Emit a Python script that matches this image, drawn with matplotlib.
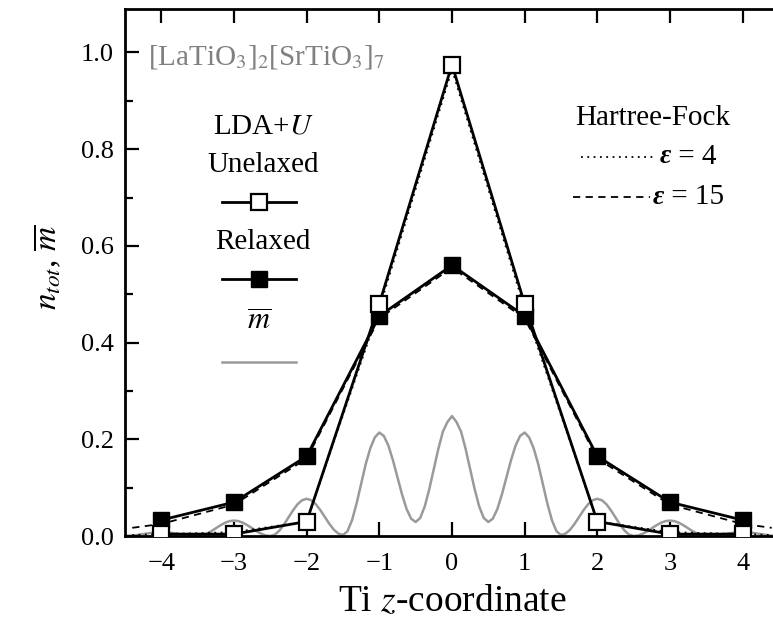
import numpy as np
import matplotlib
matplotlib.use("Agg")
import matplotlib.pyplot as plt
from matplotlib.ticker import MultipleLocator

plt.rcParams['font.family'] = ['Liberation Serif', 'DejaVu Serif']
plt.rcParams['mathtext.fontset'] = 'stix'

# Ti site positions
z_sites = [-4, -3, -2, -1, 0, 1, 2, 3, 4]

# LDA+U charge per Ti site
unrelaxed = [0.004, 0.004, 0.03, 0.48, 0.975, 0.48, 0.03, 0.004, 0.004]
relaxed = [0.033, 0.07, 0.165, 0.455, 0.56, 0.455, 0.165, 0.07, 0.033]

# Hartree-Fock curves
z_hf = [-4.4, -4, -3, -2, -1, 0, 1, 2, 3, 4, 4.4]
hf_eps4 = [0.002, 0.004, 0.008, 0.03, 0.47, 0.965, 0.47, 0.03, 0.008, 0.004, 0.002]
hf_eps15 = [0.017, 0.025, 0.065, 0.16, 0.45, 0.555, 0.45, 0.16, 0.065, 0.025, 0.017]

# averaged m-bar profile (gray), read every 1/16 in z from -4.5 to 4.5
z_m = np.linspace(-4.5, 4.5, 145)
m_bar = [0.0, 0.0003, 0.0012, 0.0025, 0.004, 0.0055, 0.0068, 0.0077, 0.008,
         0.0077, 0.0068, 0.0055, 0.004, 0.0025, 0.0012, 0.0003, 0.0,
         0.0012, 0.0047, 0.0099, 0.016, 0.0221, 0.0273, 0.0308, 0.032,
         0.0308, 0.0273, 0.0221, 0.016, 0.0099, 0.0047, 0.0012, 0.0,
         0.0029, 0.0112, 0.0238, 0.0385, 0.0532, 0.0658, 0.0741, 0.077,
         0.0741, 0.066, 0.0538, 0.0395, 0.0252, 0.013, 0.0049, 0.002,
         0.0101, 0.033, 0.0675, 0.108, 0.1485, 0.181, 0.2039, 0.214,
         0.207, 0.187, 0.1568, 0.1215, 0.0862, 0.056, 0.036, 0.029,
         0.0373, 0.061, 0.0967, 0.1385, 0.1803, 0.216, 0.2357, 0.248,
         0.2357, 0.216, 0.1803, 0.1385, 0.0967, 0.061, 0.0373, 0.029,
         0.036, 0.056, 0.0862, 0.1215, 0.1568, 0.187, 0.207, 0.214,
         0.2039, 0.181, 0.1485, 0.108, 0.0675, 0.033, 0.0101, 0.002,
         0.0049, 0.013, 0.0252, 0.0395, 0.0538, 0.066, 0.0741, 0.077,
         0.0741, 0.0658, 0.0532, 0.0385, 0.0238, 0.0112, 0.0029, 0.0,
         0.0012, 0.0047, 0.0099, 0.016, 0.0221, 0.0273, 0.0308, 0.032,
         0.0308, 0.0273, 0.0221, 0.016, 0.0099, 0.0047, 0.0012, 0.0,
         0.0003, 0.0012, 0.0025, 0.004, 0.0055, 0.0068, 0.0077, 0.008,
         0.0077, 0.0068, 0.0055, 0.004, 0.0025, 0.0012, 0.0003, 0.0]

fig = plt.figure(figsize=(7.73, 6.23), dpi=100)
ax = fig.add_axes([0.1617, 0.1396, 0.846, 0.846])

gray = '#9a9a9a'
ax.plot(z_m, m_bar, color=gray, lw=1.8, zorder=1)
ax.plot(z_hf, hf_eps4, color='black', ls=(0, (1, 2.5)), lw=1.3, zorder=2)
ax.plot(z_hf, hf_eps15, color='black', ls=(0, (4, 3)), lw=1.3, zorder=2)
ax.plot(z_sites, unrelaxed, color='black', lw=2, marker='s', ms=11,
        mfc='white', mec='black', mew=1.6, zorder=4)
ax.plot(z_sites, relaxed, color='black', lw=2, marker='s', ms=12,
        mfc='black', mec='black', zorder=3)

ax.set_xlim(-4.5, 4.5)
ax.set_ylim(0, 1.09)
ax.set_xticks(z_sites)
ax.set_xticklabels(['\u22124', '\u22123', '\u22122', '\u22121', '0', '1', '2', '3', '4'])
ax.yaxis.set_major_locator(MultipleLocator(0.2))
ax.yaxis.set_minor_locator(MultipleLocator(0.1))
ax.yaxis.set_major_formatter(plt.FuncFormatter(lambda v, p: f"{v:.1f}"))
ax.tick_params(which='both', direction='in', top=True, right=False, width=1.6,
               labelsize=19)
ax.tick_params(which='major', length=10)
ax.tick_params(which='minor', length=6)
ax.tick_params(axis='x', pad=12)
ax.tick_params(axis='y', pad=8)
for s in ax.spines.values():
    s.set_linewidth(2)

ax.set_xlabel(r'Ti $z$-coordinate', fontsize=27)
ax.xaxis.set_label_coords(0.5, -0.092)
ax.set_ylabel(r'$n_{tot}$, $\overline{m}$', fontsize=24)
ax.yaxis.set_label_coords(-0.095, 0.51)

# annotations / legend drawn by hand
ax.text(-4.19, 0.99, r'[LaTiO$_3$]$_2$[SrTiO$_3$]$_7$', color='#808080',
        fontsize=21, ha='left', va='center')
ax.text(-2.6, 0.846, r'LDA+$U$', fontsize=21, ha='center', va='center')
ax.text(-2.6, 0.767, 'Unelaxed', fontsize=21, ha='center', va='center')
ax.plot([-3.16, -2.14], [0.691, 0.691], color='black', lw=2)
ax.plot([-2.65], [0.691], marker='s', ms=11, mfc='white', mec='black', mew=1.6)
ax.text(-2.6, 0.608, 'Relaxed', fontsize=21, ha='center', va='center')
ax.plot([-3.16, -2.14], [0.532, 0.532], color='black', lw=2)
ax.plot([-2.65], [0.532], marker='s', ms=12, mfc='black', mec='black')
ax.text(-2.65, 0.443, r'$\overline{m}$', fontsize=22, ha='center', va='center')
ax.plot([-3.16, -2.14], [0.36, 0.36], color=gray, lw=1.8)

ax.text(2.76, 0.865, 'Hartree-Fock', fontsize=21, ha='center', va='center')
ax.plot([1.78, 2.76], [0.784, 0.784], color='black', ls=(0, (1, 2.5)), lw=1.3)
ax.text(2.86, 0.784, '\u03b5', fontsize=20, ha='left', va='center',
        fontweight='bold', style='italic')
ax.text(3.02, 0.784, ' = 4', fontsize=21, ha='left', va='center')
ax.plot([1.66, 2.72], [0.701, 0.701], color='black', ls=(0, (4, 3)), lw=1.3)
ax.text(2.76, 0.701, '\u03b5', fontsize=20, ha='left', va='center',
        fontweight='bold', style='italic')
ax.text(2.92, 0.701, ' = 15', fontsize=21, ha='left', va='center')

fig.savefig('out.png', dpi=100)
